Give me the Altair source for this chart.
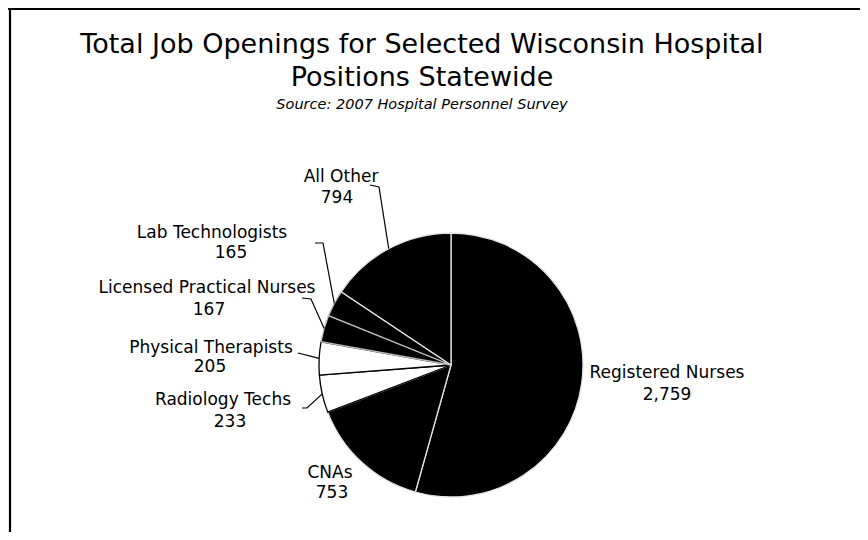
import math
import altair as alt
import pandas as pd

# ---------------- data ----------------
categories = ["Registered Nurses", "CNAs", "Radiology Techs", "Physical Therapists",
              "Licensed Practical Nurses", "Lab Technologists", "All Other"]
openings = [2759, 753, 233, 205, 167, 165, 794]
value_labels = ["2,759", "753", "233", "205", "167", "165", "794"]

title_lines = ["Total Job Openings for Selected Wisconsin Hospital", "Positions Statewide"]
subtitle_text = "Source: 2007 Hospital Personnel Survey"

# ---------------- style ----------------
FONT = "DejaVu Sans"
slice_fill = ["#000000", "#000000", "#ffffff", "#ffffff", "#000000", "#000000", "#000000"]
slice_stroke = ["#e6e6e6", "#e6e6e6", "#000000", "#000000", "#bdbdbd", "#bdbdbd", "#e6e6e6"]
PIE_R = 132

# ---------------- layout (pixel offsets from pie centre, y downwards) ----------------
W, H = 852, 524
CX, CY = 443, 357          # pie centre inside the plot area
name_offsets = [(216, 8), (-121, 108), (-228, 35), (-240, -17), (-244, -77), (-239, -132), (-110, -188)]
value_offsets = [(216, 30), (-119, 128), (-221, 57), (-241, 2), (-242, -55), (-220, -112), (-114, -167)]
leader_points = {
    "Radiology Techs": [(-149, 43), (-144, 43)],
    "Physical Therapists": [(-153, -12)],
    "Licensed Practical Nurses": [(-149, -67), (-140, -66)],
    "Lab Technologists": [(-136, -122), (-128, -122)],
    "All Other": [(-81, -180), (-72, -178)],
}

# ---------------- tables ----------------
total = sum(openings)
mids = []
cum = 0
for v in openings:
    mids.append((cum + v / 2) / total * 2 * math.pi)
    cum += v

df = pd.DataFrame({
    "category": categories,
    "openings": openings,
    "idx": list(range(len(categories))),
    "value_label": value_labels,
    "nx": [p[0] for p in name_offsets],
    "ny": [p[1] for p in name_offsets],
    "vx": [p[0] for p in value_offsets],
    "vy": [p[1] for p in value_offsets],
})

rows = []
for cat, pts in leader_points.items():
    i = categories.index(cat)
    edge = (PIE_R * math.sin(mids[i]), -PIE_R * math.cos(mids[i]))
    for k, (px, py) in enumerate(pts + [edge]):
        rows.append({"category": cat, "pt": k, "lx": px, "ly": py})
leaders_df = pd.DataFrame(rows)

xs = alt.Scale(domain=[-CX, W - CX], nice=False, zero=False)
ys = alt.Scale(domain=[-CY, H - CY], nice=False, zero=False, reverse=True)

base = alt.Chart(df)

pie = base.mark_arc(radius=PIE_R, strokeWidth=1.3).encode(
    theta=alt.Theta("openings:Q", stack=True),
    order=alt.Order("idx:Q"),
    fill=alt.Fill("category:N", scale=alt.Scale(domain=categories, range=slice_fill), legend=None),
    stroke=alt.Stroke("category:N", scale=alt.Scale(domain=categories, range=slice_stroke), legend=None),
    x=alt.X(datum=0, scale=xs, axis=None),
    y=alt.Y(datum=0, scale=ys, axis=None),
)

leaders = alt.Chart(leaders_df).mark_line(color="black", strokeWidth=1.2).encode(
    x=alt.X("lx:Q", scale=xs, axis=None),
    y=alt.Y("ly:Q", scale=ys, axis=None),
    detail="category:N",
    order="pt:Q",
)

names = base.mark_text(font=FONT, fontSize=17, align="center", baseline="middle", color="black").encode(
    x=alt.X("nx:Q", scale=xs, axis=None),
    y=alt.Y("ny:Q", scale=ys, axis=None),
    text="category:N",
)

values = base.mark_text(font=FONT, fontSize=17, align="center", baseline="middle", color="black").encode(
    x=alt.X("vx:Q", scale=xs, axis=None),
    y=alt.Y("vy:Q", scale=ys, axis=None),
    text="value_label:N",
)

one = pd.DataFrame({"k": [0]})
title1 = alt.Chart(one).mark_text(font=FONT, fontSize=27, align="center", baseline="alphabetic",
                                  color="black", text=title_lines[0]).encode(
    x=alt.value(414), y=alt.value(45))
title2 = alt.Chart(one).mark_text(font=FONT, fontSize=27, align="center", baseline="alphabetic",
                                  color="black", text=title_lines[1]).encode(
    x=alt.value(414), y=alt.value(78))
subtitle = alt.Chart(one).mark_text(font=FONT, fontSize=14.5, fontStyle="italic", align="center",
                                    baseline="alphabetic", color="black", text=subtitle_text).encode(
    x=alt.value(414), y=alt.value(101))

frame_left = alt.Chart(one).mark_rule(color="black", strokeWidth=2.2).encode(
    x=alt.value(2), y=alt.value(0), y2=alt.value(H))
frame_top = alt.Chart(one).mark_rule(color="black", strokeWidth=2.2).encode(
    x=alt.value(0), x2=alt.value(W), y=alt.value(1))

chart = alt.layer(
    pie, leaders, names, values, title1, title2, subtitle, frame_left, frame_top
).properties(
    width=W, height=H, padding=0, background="white",
    autosize=alt.AutoSizeParams(type="none"),
).configure_view(stroke=None)

chart.save("out.html", embed_options={"renderer": "svg", "actions": False})
